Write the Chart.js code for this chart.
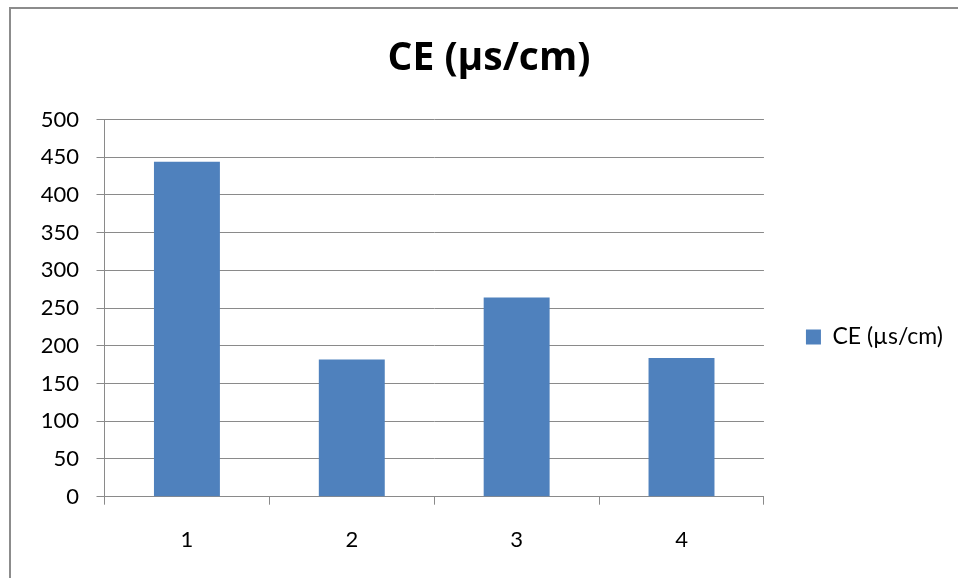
<!DOCTYPE html>
<html>
<head>
<meta charset="utf-8">
<script src="https://cdn.jsdelivr.net/npm/chart.js@4/dist/chart.umd.min.js"></script>
<style>
  html, body { margin: 0; padding: 0; background: #ffffff; }
  #wrap { position: relative; width: 958px; height: 578px; overflow: hidden; }
  #frame {
    position: absolute; left: 9px; top: 7px; width: 980px; height: 600px;
    border-left: 2px solid #8c8c8c; border-top: 2px solid #8c8c8c;
    pointer-events: none;
  }
  canvas { position: absolute; left: 0; top: 0; }
</style>
</head>
<body>
<div id="wrap">
  <canvas id="chart" width="958" height="578"></canvas>
  <div id="frame"></div>
</div>
<script>
// Conductivity readings per sample point
const categories = ['1', '2', '3', '4'];
const seriesName = 'CE (µs/cm)';
const ceValues = [444, 182, 264, 184];
const yTicks = [0, 50, 100, 150, 200, 250, 300, 350, 400, 450, 500];

const FONT = 'Lato, "Open Sans", sans-serif';
const TITLE_FONT = '"Open Sans", Lato, sans-serif';
const GRID = '#8a8a8a';

// Moves the legend box next to the plot, vertically below centre
const legendOffset = {
  id: 'legendOffset',
  afterLayout(chart) {
    const lg = chart.legend;
    if (!lg) return;
    const dx = 7, dy = 44;
    lg.left += dx; lg.right += dx;
    lg.top += dy; lg.bottom += dy;
  }
};

Chart.defaults.color = '#000000';
Chart.defaults.font.family = FONT;

new Chart(document.getElementById('chart'), {
  type: 'bar',
  data: {
    labels: categories,
    datasets: [{
      label: seriesName,
      data: ceValues,
      backgroundColor: '#4f81bd',
      borderWidth: 0,
      categoryPercentage: 0.4,
      barPercentage: 1.0
    }]
  },
  options: {
    responsive: false,
    animation: false,
    layout: { padding: { top: 8, left: 32, right: 12, bottom: 0 } },
    plugins: {
      title: {
        display: true,
        text: seriesName,
        font: { family: TITLE_FONT, size: 39, weight: 'bold' },
        color: '#000000',
        padding: { top: 27.6, bottom: 37.1 }
      },
      legend: {
        position: 'right',
        align: 'center',
        labels: {
          boxWidth: 15,
          boxHeight: 15,
          padding: 35,
          font: { family: FONT, size: 23 },
          color: '#000000'
        }
      },
      tooltip: { enabled: false }
    },
    scales: {
      x: {
        offset: true,
        grid: {
          offset: true,
          drawOnChartArea: false,
          drawTicks: true,
          tickLength: 8,
          color: GRID,
          lineWidth: 1
        },
        border: { display: true, color: GRID, width: 1 },
        ticks: { font: { family: FONT, size: 22 }, padding: 22, color: '#000000' },
        afterFit(scale) { scale.height = 81.3; }
      },
      y: {
        min: 0,
        max: 500,
        afterBuildTicks(scale) { scale.ticks = yTicks.map(v => ({ value: v })); },
        grid: { color: GRID, lineWidth: 1, drawTicks: true, tickLength: 8 },
        border: { display: true, color: GRID, width: 1 },
        ticks: { font: { family: FONT, size: 22 }, padding: 17.5, color: '#000000' },
        afterFit(scale) { scale.width = 72.5; }
      }
    }
  },
  plugins: [legendOffset]
});
</script>
</body>
</html>
